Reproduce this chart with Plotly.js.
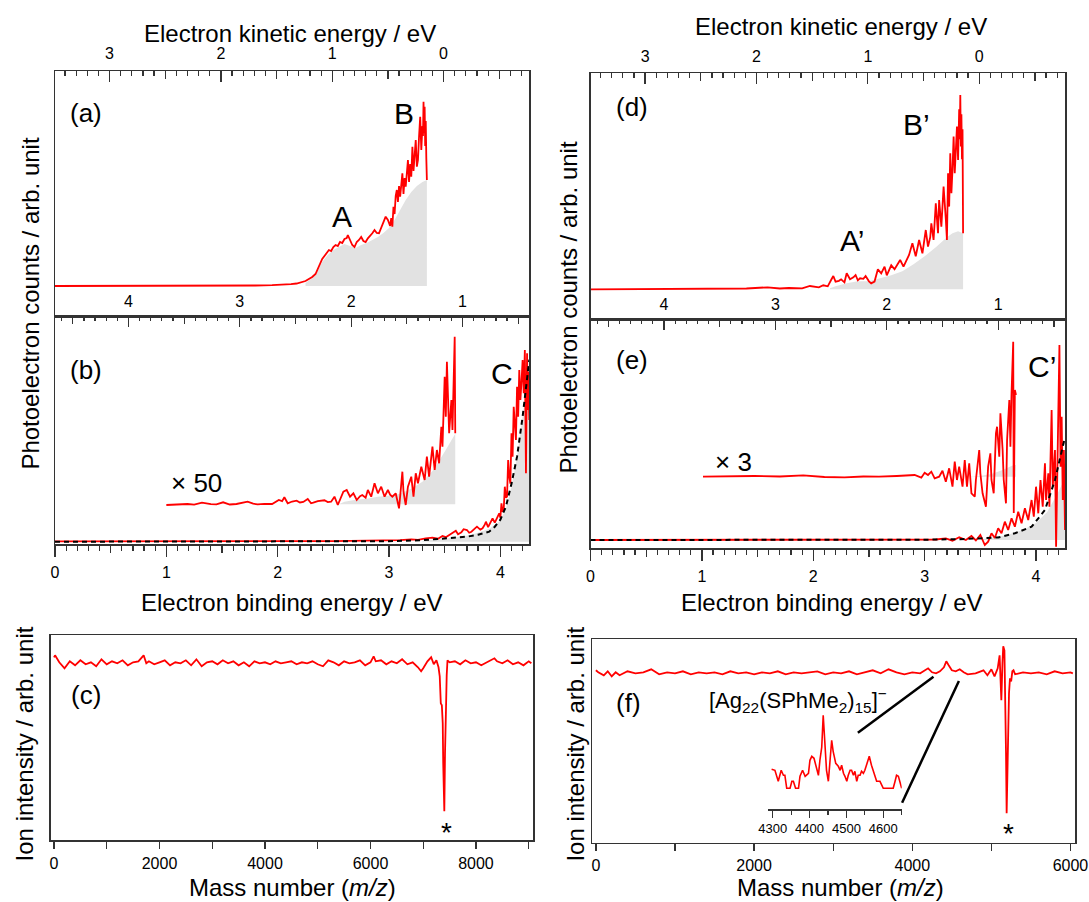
<!DOCTYPE html>
<html><head><meta charset="utf-8">
<script src="https://cdn.plot.ly/plotly-3.0.1.min.js"></script>
<style>html,body{margin:0;padding:0;background:#fff}#chart{width:1089px;height:902px}</style>
</head><body><div id="chart"></div>
<script>
// ---------------- DATA ----------------
// photon energies (eV) used for the kinetic-energy scales
const hv355 = 3.49;
const hv266 = 4.66;
// tick labels
const beTicks = [0, 1, 2, 3, 4];
const beHalf = [0.5, 1.5, 2.5, 3.5];
const ke355Ticks = [3, 2, 1, 0];
const ke355Half = [2.5, 1.5, 0.5, -0.5];
const ke266Ticks = [4, 3, 2, 1];
const ke266Half = [4.5, 3.5, 2.5, 1.5, 0.5];
const massTicksC = [0, 2000, 4000, 6000, 8000];
const massTicksF = [0, 2000, 4000, 6000];
const insetTicks = [4300, 4400, 4500, 4600];

// (a) 355 nm spectrum, binding energy (eV) vs counts (arb.)
const aBE = [0, 0.3, 0.6, 0.9, 1.2, 1.5, 1.8, 1.95, 2.05, 2.12,
  2.17, 2.21, 2.25, 2.28, 2.31, 2.34, 2.36, 2.38, 2.40, 2.42,
  2.44, 2.46, 2.48, 2.50, 2.52, 2.54, 2.56, 2.58, 2.60, 2.62,
  2.63, 2.65, 2.67, 2.69, 2.71, 2.73, 2.75, 2.77, 2.79, 2.81,
  2.83, 2.85, 2.87, 2.89, 2.91, 2.93, 2.95, 2.97, 2.99, 3.01,
  3.02, 3.03, 3.04, 3.05, 3.06, 3.07, 3.08, 3.09, 3.10, 3.11,
  3.12, 3.13, 3.14, 3.15, 3.16, 3.17, 3.18, 3.19, 3.20, 3.21,
  3.22, 3.23, 3.24, 3.25, 3.26, 3.27, 3.28, 3.29, 3.30, 3.305,
  3.31, 3.315, 3.32, 3.325, 3.33, 3.335, 3.34];
const aVal = [0, 0, 0.3, 0, 0.2, 0.4, 0.5, 0.8, 1.2, 1.8,
  2.5, 3.5, 5, 7, 9, 12, 17, 22, 27, 30,
  33, 36, 35, 39, 41, 40, 44, 43, 47, 48,
  51, 45, 41, 39, 44, 46, 49, 45, 44, 47.7,
  50, 52.7, 56, 53, 52.7, 58, 62.7, 69.3, 66, 60,
  68, 59.3, 79.3, 72, 90, 96, 84, 100, 89.3, 106,
  112.7, 92, 108, 99.3, 118, 126, 104, 122, 109.3, 139.3,
  115, 128, 146, 119.3, 126, 150, 169.3, 136, 160, 150,
  184.3, 152.7, 179.3, 140, 165, 128, 106];
const aFillBE = [2.25, 2.30, 2.35, 2.40, 2.45, 2.50, 2.55, 2.60, 2.65, 2.70, 2.75, 2.80,
  2.85, 2.90, 2.95, 3.00, 3.05, 3.10, 3.15, 3.20, 3.25, 3.30, 3.34];
const aFillVal = [3, 7, 13, 24, 31, 36, 39, 42, 40, 38, 41, 43,
  46, 49, 53, 58, 66, 76, 86, 94, 100, 104, 106];

// (b) 266 nm spectrum, x50 magnified trace (already offset)
const x50BE = [1.00, 1.10, 1.19, 1.25, 1.32, 1.40, 1.45, 1.51, 1.57, 1.63,
  1.68, 1.73, 1.78, 1.82, 1.88, 1.95, 2.01, 2.04, 2.06, 2.09,
  2.13, 2.17, 2.20, 2.23, 2.27, 2.30, 2.32, 2.36, 2.42, 2.45,
  2.48, 2.51, 2.54, 2.57, 2.59, 2.62, 2.65, 2.68, 2.71, 2.74,
  2.76, 2.79, 2.81, 2.84, 2.87, 2.90, 2.93, 2.96, 2.99, 3.01,
  3.03, 3.06, 3.08, 3.09, 3.10, 3.12, 3.13, 3.15, 3.17, 3.20,
  3.22, 3.24, 3.26, 3.29, 3.32, 3.34, 3.36, 3.39, 3.41, 3.43,
  3.45, 3.47, 3.48, 3.50, 3.51, 3.52, 3.54, 3.56, 3.57, 3.58,
  3.59, 3.595];
const x50Val = [36.7, 37.2, 37.7, 37.0, 39.0, 37.5, 37.4, 39.4, 37.2, 37.7,
  38.5, 40.0, 38.0, 37.4, 37.8, 37.7, 41.7, 40.5, 44.4, 38.4,
  40.2, 41.0, 39.2, 39.7, 42.7, 38.4, 39.0, 40.5, 41.4, 39.6,
  40.0, 45.0, 36.7, 46.0, 50.0, 51.7, 45.0, 48.4, 41.7, 45.5,
  46.7, 44.0, 51.7, 45.0, 58.4, 48.4, 55.0, 45.0, 51.7, 47.0,
  45.0, 48.4, 40.0, 33.4, 45.0, 70.0, 50.0, 36.7, 55.0, 65.0,
  45.0, 68.4, 58.4, 75.0, 61.7, 85.0, 65.0, 95.0, 71.7, 91.7,
  78.4, 115.0, 95.0, 165.0, 125.0, 180.0, 108.4, 141.7, 111.7, 150.0,
  205.0, 108.4];
const x50Base = 37.4;
const x50FillBE = [2.55, 2.60, 2.70, 2.80, 2.90, 3.00, 3.10, 3.20, 3.30, 3.40, 3.50, 3.55, 3.595];
const x50FillVal = [37.4, 40, 42, 43, 45, 46, 48, 53, 60, 72, 90, 100, 108];
// (b) main trace
const bBE = [0, 0.5, 1.0, 1.5, 2.0, 2.5, 2.8, 3.0, 3.1, 3.2,
  3.26, 3.33, 3.39, 3.44, 3.48, 3.51, 3.54, 3.57, 3.60, 3.62,
  3.65, 3.67, 3.70, 3.72, 3.74, 3.77, 3.79, 3.82, 3.84, 3.86,
  3.87, 3.89, 3.90, 3.92, 3.93, 3.95, 3.96, 3.98, 3.99, 4.00,
  4.01, 4.02, 4.03, 4.04, 4.05, 4.06, 4.07, 4.08, 4.09, 4.10,
  4.11, 4.12, 4.13, 4.14, 4.15, 4.16, 4.17, 4.18, 4.19, 4.20,
  4.21, 4.22, 4.23, 4.235, 4.24, 4.245, 4.25, 4.255, 4.26];
const bVal = [0.3, 0.2, 0.4, 0.3, 0.5, 0.6, 0.8, 1.0, 1.5, 2.4,
  1.8, 3.4, 4.0, 3.0, 5.7, 4.5, 6.7, 8.5, 11.0, 7.5,
  9.4, 12.5, 11.7, 9.0, 10.0, 13.0, 15.0, 12.0, 13.4, 17.0,
  20.0, 14.5, 16.7, 21.0, 23.4, 19.0, 21.7, 26.0, 28.4, 24.0,
  38.4, 30.0, 31.7, 55.0, 44.0, 45.0, 81.7, 65.0, 58.0, 108.4,
  85.0, 135.0, 115.0, 101.7, 155.0, 125.0, 171.7, 141.7, 160.0, 181.7,
  148.4, 191.7, 68.4, 160.0, 188.4, 131.7, 170.0, 150.0, 121.7];
const bFitBE = [0, 1, 2, 3, 3.3, 3.5, 3.7, 3.8, 3.9, 3.95, 4.0, 4.05, 4.1, 4.15, 4.2, 4.26];
const bFitVal = [0, 0, 0, 0.5, 1.5, 3, 5, 7, 10, 15, 22, 35, 58, 85, 125, 182];
const bFillBE = [3.3, 3.5, 3.7, 3.8, 3.9, 4.0, 4.05, 4.1, 4.15, 4.2, 4.26];
const bFillVal = [1, 3, 6, 9, 13, 21, 33, 55, 85, 125, 180];

// (c) mass spectrum (m/z vs signal, depletion)
const cMZ = [0, 20, 100, 200, 300, 400, 500, 600, 700, 800,
  900, 1000, 1100, 1200, 1300, 1400, 1500, 1600, 1700, 1750,
  1800, 1900, 2000, 2100, 2200, 2300, 2400, 2500, 2600, 2700,
  2800, 2900, 3000, 3100, 3200, 3300, 3400, 3500, 3600, 3700,
  3800, 3900, 4000, 4100, 4200, 4300, 4400, 4500, 4600, 4700,
  4800, 4900, 5000, 5100, 5200, 5300, 5400, 5500, 5600, 5700,
  5800, 5900, 6000, 6060, 6100, 6200, 6300, 6400, 6500, 6600,
  6700, 6800, 6900, 6960, 7000, 7080, 7150, 7200, 7250, 7290,
  7313, 7333, 7353, 7370, 7379, 7390, 7400, 7413, 7422, 7432,
  7445, 7460, 7500, 7600, 7700, 7800, 7900, 8000, 8100, 8200,
  8300, 8350, 8400, 8500, 8600, 8700, 8800, 8900, 9000, 9050];
const cVal = [6, 8, 1, -5, 2, -2, 3, -1, 1, -3,
  4, -1, 2, 0, 3, -2, 1, 2, 8, 0,
  2, -1, 1, 3, -2, 1, 0, 3, -2, 4,
  -3, 1, 2, -1, 3, 0, 2, -2, 1, -3,
  2, 0, 1, -1, 2, 0, 1, 2, -1, 1,
  0, 2, -1, -3, 3, 1, -2, 2, 0, 1,
  3, -2, 1, 7, 2, 3, -1, 2, 0, 4,
  -1, 1, -4, -8, -5, 2, 6, -1, 3, -4,
  -13, -40, -42, -60, -100, -148, -148, -90, -47, -45,
  -12, 3, 1, 2, -1, 3, 0, 1, -2, 1,
  4, 5, 2, 0, 3, -1, 1, -2, 2, 0];

// (d) 355 nm spectrum
const dBE = [0, 0.4, 0.8, 1.16, 1.4, 1.59, 1.7, 1.78, 1.9, 1.97,
  2.05, 2.09, 2.13, 2.16, 2.18, 2.20, 2.23, 2.25, 2.28, 2.30,
  2.33, 2.36, 2.38, 2.40, 2.42, 2.45, 2.47, 2.50, 2.52, 2.55,
  2.58, 2.61, 2.64, 2.66, 2.68, 2.70, 2.73, 2.75, 2.78, 2.81,
  2.83, 2.86, 2.89, 2.92, 2.95, 2.98, 3.01, 3.03, 3.05, 3.06,
  3.08, 3.10, 3.12, 3.13, 3.15, 3.17, 3.19, 3.20, 3.21, 3.22,
  3.23, 3.24, 3.25, 3.26, 3.27, 3.28, 3.29, 3.30, 3.31, 3.315,
  3.32, 3.325, 3.33, 3.335, 3.34, 3.345];
const dVal = [0, 0.2, 0.3, 0.3, 0.8, 2.0, 0.8, 1.3, 1.0, 3.3,
  2.0, 4.0, 3.0, 9.3, 13.3, 7.7, 8.5, 10.0, 7.0, 16.0,
  10.0, 12.0, 14.3, 9.0, 11.0, 10.5, 13.3, 8.0, 6.0, 7.7,
  20.0, 16.0, 22.7, 14.0, 18.7, 24.0, 20.0, 24.3, 29.3, 22.7,
  27.0, 34.3, 46.0, 33.0, 49.3, 36.0, 59.3, 42.7, 52.0, 66.0,
  49.3, 86.0, 56.0, 89.3, 62.7, 102.7, 70.0, 49.3, 116.0, 82.7,
  136.0, 96.0, 120.0, 152.7, 116.0, 140.0, 162.7, 129.3, 180.0, 150.0,
  194.3, 142.7, 175.0, 130.0, 160.0, 56.0];
const dFillBE = [2.15, 2.2, 2.3, 2.4, 2.5, 2.6, 2.7, 2.8, 2.9, 3.0, 3.1, 3.2, 3.25, 3.3, 3.345];
const dFillVal = [1, 3, 6, 8, 8, 11, 14, 18, 25, 33, 42, 52, 56, 58, 56];

// (e) 266 nm spectrum, x3 magnified trace (already offset)
const x3BE = [1.01, 1.2, 1.47, 1.7, 1.91, 2.1, 2.28, 2.45, 2.59, 2.75,
  2.91, 2.97, 3.00, 3.03, 3.06, 3.09, 3.13, 3.16, 3.19, 3.22,
  3.25, 3.27, 3.29, 3.31, 3.34, 3.36, 3.38, 3.40, 3.42, 3.45,
  3.46, 3.49, 3.50, 3.52, 3.55, 3.57, 3.59, 3.60, 3.62, 3.64,
  3.65, 3.67, 3.68, 3.70, 3.71, 3.73, 3.74, 3.76, 3.77, 3.78,
  3.795, 3.80, 3.805, 3.81, 3.82];
const x3Val = [63.3, 63.6, 64.0, 63.5, 64.7, 63.0, 62.7, 63.5, 63.3, 64.0,
  65.0, 62.3, 67.3, 65.0, 68.3, 61.7, 63.3, 69.3, 58.3, 71.7,
  53.3, 78.3, 60.0, 73.3, 53.3, 80.0, 53.3, 76.7, 46.7, 43.3,
  60.0, 90.0, 66.7, 46.7, 33.3, 73.3, 86.7, 60.0, 46.7, 106.7,
  113.3, 83.3, 126.7, 90.0, 60.0, 36.7, 100.0, 140.0, 93.3, 146.7,
  198.3, 27.0, 146.7, 150.0, 145.0];
const x3Base = 63.3;
const x3FillBE = [3.4, 3.5, 3.6, 3.7, 3.8, 3.82];
const x3FillVal = [63.3, 64, 66, 70, 75, 75];
// (e) main trace
const eBE = [0, 0.5, 1, 1.5, 2, 2.5, 3.0, 3.10, 3.19, 3.25,
  3.31, 3.37, 3.42, 3.46, 3.50, 3.54, 3.57, 3.60, 3.63, 3.66,
  3.69, 3.72, 3.75, 3.78, 3.81, 3.84, 3.87, 3.90, 3.93, 3.96,
  3.98, 4.00, 4.02, 4.04, 4.06, 4.08, 4.09, 4.11, 4.12, 4.14,
  4.15, 4.17, 4.18, 4.20, 4.21, 4.22, 4.23, 4.24, 4.25, 4.26];
const eVal = [0, 0, 0, 0, 0, 0.2, 0.3, 0.5, 1.7, -0.7,
  2.7, 0, 4.0, -0.5, 5.0, -5.0, -1.7, 6.7, 2.0, 11.7,
  6.7, 18.3, 10.0, 21.7, 13.3, 28.3, 16.7, 31.7, 20.0, 40.0,
  23.3, 53.3, 26.7, 60.0, 33.3, 76.7, 40.0, 66.7, 33.3, 130.0,
  53.3, 90.0, -6.7, 106.7, 195.0, 73.3, 123.3, 40.0, 90.0, 10.0];
const eFitBE = [0, 1, 2, 3, 3.3, 3.5, 3.66, 3.81, 3.96, 4.08, 4.17, 4.26];
const eFitVal = [0, 0, 0, 0.3, 0.8, 1.5, 2.5, 6.7, 13.3, 30, 60, 103];
const eFillBE = [3.5, 3.6, 3.7, 3.8, 3.9, 4.0, 4.1, 4.2, 4.26];
const eFillVal = [0.5, 2, 4, 7, 11, 17, 28, 48, 62];

// (f) mass spectrum
const fMZ = [0, 30, 100, 150, 200, 250, 300, 400, 500, 600,
  700, 800, 900, 1000, 1100, 1200, 1300, 1400, 1500, 1600,
  1700, 1800, 1900, 2000, 2100, 2200, 2300, 2400, 2500, 2600,
  2700, 2800, 2900, 3000, 3100, 3200, 3300, 3400, 3500, 3600,
  3700, 3800, 3900, 4000, 4100, 4200, 4250, 4300, 4350, 4400,
  4430, 4460, 4500, 4550, 4600, 4650, 4700, 4800, 4900, 4950,
  5000, 5040, 5080, 5104, 5115, 5126, 5140, 5150, 5165, 5175,
  5185, 5193, 5205, 5215, 5223, 5235, 5250, 5265, 5280, 5300,
  5400, 5500, 5600, 5700, 5800, 5900, 6000, 6030];
const fVal = [3, 1, -2, 2, -3, 1, -2, 2, 0, 1,
  4, -1, 1, 0, 2, -1, 1, 0, 1, -1,
  2, 0, 1, -1, 1, 0, 2, -1, 1, 0,
  1, 2, -1, 1, 0, 2, -1, 1, 3, 0,
  4, 1, -1, 1, 0, 5, 1, 0, 2, 6,
  12, 8, 3, 2, 4, 1, -1, 0, 3, -2,
  4, -3, 5, 18, -5, -27, 10, 27, 23, -20,
  -80, -140, -80, -45, -20, -5, -8, 2, 3, -1,
  1, 0, 1, -1, 2, 0, 1, 0];

// (f) inset: [Ag22(SPhMe2)15]- region
const insMZ = [4297, 4306, 4315, 4323, 4329, 4333, 4338, 4347, 4352, 4356,
  4362, 4370, 4374, 4381, 4388, 4397, 4401, 4406, 4412, 4419,
  4424, 4428, 4433, 4437, 4442, 4446, 4451, 4455, 4460, 4464,
  4471, 4478, 4483, 4487, 4492, 4496, 4501, 4505, 4510, 4514,
  4519, 4523, 4528, 4532, 4537, 4541, 4546, 4550, 4555, 4562,
  4568, 4575, 4582, 4591, 4600, 4618, 4627, 4632, 4636, 4641,
  4650];
const insVal = [40, 39, 28, 39, 34, 34, 21, 21, 28, 28,
  21, 21, 33, 39, 33, 36, 49, 53, 51, 41,
  34, 49, 62, 94, 62, 39, 28, 49, 69, 58,
  46, 43, 39, 44, 36, 33, 28, 34, 39, 39,
  34, 38, 28, 34, 34, 38, 36, 39, 46, 53,
  44, 36, 28, 28, 21, 21, 21, 28, 34, 33,
  21];

// ---------------- LAYOUT HELPERS ----------------
const W = 1089, H = 902;
const px = v => v / W, py = v => 1 - v / H;
const FONT = 'Liberation Sans, Arial, Helvetica, sans-serif';
const RED = '#ff0000', GRAY = '#e2e2e2', AX = '#333333';
const TICKFONT = {family: FONT, size: 16, color: '#000'};
const BE_RANGE = [0, 4.26];

function ax(extra) {
  return Object.assign({
    showgrid: false, zeroline: false, showline: true, linecolor: AX, linewidth: 1.5,
    tickcolor: AX, tickwidth: 1.3, tickfont: TICKFONT, fixedrange: true
  }, extra);
}
function yax(domain, range, anchor) {
  return ax({domain: domain, range: range, anchor: anchor, showticklabels: false, ticks: '', mirror: true});
}
function beAxis(domain, anchor) {
  return ax({domain: domain, range: BE_RANGE, anchor: anchor, side: 'bottom',
    tickmode: 'array', tickvals: beTicks, ticktext: beTicks.map(String),
    ticks: 'outside', ticklen: 11, ticklabelstandoff: 2,
    minor: {ticks: 'outside', ticklen: 5, tick0: 0, dtick: 0.1, tickcolor: AX, tickwidth: 1.2}});
}
function keAxis(hv, kt, extra) {
  return ax(Object.assign({range: BE_RANGE, side: 'top', tickmode: 'array',
    tickvals: kt.map(k => hv - k), ticktext: kt.map(String), ticks: 'inside', ticklen: 11,
    minor: {ticks: 'inside', ticklen: 5, tick0: hv, dtick: 0.1, tickcolor: AX, tickwidth: 1.2}}, extra));
}
// medium (half-unit) ticks, drawn on an overlaid axis without labels
function midAxis(vals, over, anchor, side, dir) {
  return {overlaying: over, anchor: anchor, side: side, range: BE_RANGE, showline: false, showgrid: false,
    zeroline: false, showticklabels: false, tickmode: 'array', tickvals: vals, ticks: dir, ticklen: 8,
    tickcolor: AX, tickwidth: 1.3, fixedrange: true};
}
function massAxis(domain, range, anchor, ticks) {
  return ax({domain: domain, range: range, anchor: anchor, mirror: true, tickmode: 'array',
    tickvals: ticks, ticktext: ticks.map(String), ticks: 'outside', ticklen: 7, ticklabelstandoff: 1,
    minor: {ticks: 'outside', ticklen: 7, tick0: 0, dtick: 1000, tickcolor: AX, tickwidth: 1.3}});
}
function line(x, y, xa, ya, color, width, dash) {
  return {type: 'scatter', mode: 'lines', x: x, y: y, xaxis: xa, yaxis: ya,
    line: {color: color, width: width, dash: dash || 'solid'}, hoverinfo: 'skip'};
}
function fillTo0(x, y, xa, ya) {
  return {type: 'scatter', mode: 'lines', x: x, y: y, xaxis: xa, yaxis: ya, fill: 'tozeroy',
    fillcolor: GRAY, line: {width: 0, color: GRAY}, hoverinfo: 'skip'};
}
function fillAbove(x, y, base, xa, ya) {
  return [
    {type: 'scatter', mode: 'lines', x: x, y: x.map(() => base), xaxis: xa, yaxis: ya,
      line: {width: 0, color: GRAY}, hoverinfo: 'skip'},
    {type: 'scatter', mode: 'lines', x: x, y: y, xaxis: xa, yaxis: ya, fill: 'tonexty',
      fillcolor: GRAY, line: {width: 0, color: GRAY}, hoverinfo: 'skip'}
  ];
}
const empty = (xa, ya) => ({type: 'scatter', mode: 'lines', x: [], y: [], xaxis: xa, yaxis: ya, hoverinfo: 'skip'});

const LX = [px(55), px(529.3)], RX = [px(590.5), px(1065)];
const LW = 1.8;

const traces = [].concat(
  // (a)
  [fillTo0(aFillBE, aFillVal, 'x3', 'y3'), line(aBE, aVal, 'x3', 'y3', RED, LW)],
  // (b)
  fillAbove(x50FillBE, x50FillVal, x50Base, 'x', 'y'),
  [fillTo0(bFillBE, bFillVal, 'x', 'y'),
   line(x50BE, x50Val, 'x', 'y', RED, LW),
   line(bBE, bVal, 'x', 'y', RED, LW),
   line(bFitBE, bFitVal, 'x', 'y', '#000', 2, '5px,4px')],
  // (c)
  [line(cMZ, cVal, 'x4', 'y4', RED, LW)],
  // (d)
  [fillTo0(dFillBE, dFillVal, 'x7', 'y7'), line(dBE, dVal, 'x7', 'y7', RED, LW)],
  // (e)
  fillAbove(x3FillBE, x3FillVal, x3Base, 'x5', 'y5'),
  [fillTo0(eFillBE, eFillVal, 'x5', 'y5'),
   line(x3BE, x3Val, 'x5', 'y5', RED, LW),
   line(eBE, eVal, 'x5', 'y5', RED, LW),
   line(eFitBE, eFitVal, 'x5', 'y5', '#000', 2, '5px,4px')],
  // (f)
  [line(fMZ, fVal, 'x8', 'y8', RED, LW),
   line(insMZ, insVal, 'x9', 'y9', RED, 1.6)],
  // overlaid tick-only axes
  [empty('x2', 'y'), empty('x6', 'y5'), empty('x10', 'y'), empty('x11', 'y'), empty('x12', 'y3'),
   empty('x13', 'y5'), empty('x14', 'y5'), empty('x15', 'y7')]
);

function note(x, y, text, size, extra) {
  return Object.assign({xref: 'paper', yref: 'paper', x: px(x), y: py(y), text: text, showarrow: false,
    xanchor: 'center', yanchor: 'middle', font: {family: FONT, size: size, color: '#000'}}, extra || {});
}

const annotations = [
  note(290, 33, 'Electron kinetic energy / eV', 24),
  note(841, 27, 'Electron kinetic energy / eV', 24),
  note(292, 602, 'Electron binding energy / eV', 24),
  note(832, 602, 'Electron binding energy / eV', 24),
  note(292, 887, 'Mass number (<i>m/z</i>)', 24),
  note(840, 887, 'Mass number (<i>m/z</i>)', 24),
  note(29.6, 303, 'Photoelectron counts / arb. unit', 24, {textangle: -90}),
  note(567.6, 307, 'Photoelectron counts / arb. unit', 24, {textangle: -90}),
  note(24.4, 744, 'Ion intensity / arb. unit', 24, {textangle: -90}),
  note(574.6, 744, 'Ion intensity / arb. unit', 24, {textangle: -90}),
  note(85.5, 113, '(a)', 26), note(85.5, 370, '(b)', 26), note(85.5, 695, '(c)', 26),
  note(632, 107, '(d)', 26), note(632, 360, '(e)', 26), note(628.6, 703, '(f)', 26),
  note(341.5, 216.7, 'A', 30), note(404.2, 113.3, 'B', 30), note(501.7, 373.3, 'C', 30),
  note(851.6, 240, 'A’', 30), note(916, 125, 'B’', 30), note(1041.5, 366.7, 'C’', 30),
  note(197, 482.7, '× 50', 26), note(733, 461.7, '× 3', 26),
  note(446, 832, '*', 28), note(1008.4, 833, '*', 28),
  note(798, 700, '[Ag<sub>22</sub>(SPhMe<sub>2</sub>)<sub>15</sub>]<sup>−</sup>', 22)
];

const shapes = [
  {type: 'line', xref: 'paper', yref: 'paper', x0: px(933.5), y0: py(676.7), x1: px(857.9), y1: py(732.7),
    line: {color: '#000', width: 2.5}},
  {type: 'line', xref: 'paper', yref: 'paper', x0: px(958.9), y0: py(681), x1: px(902.1), y1: py(802.7),
    line: {color: '#000', width: 2.5}}
];

const layout = {
  width: W, height: H, margin: {l: 0, r: 0, t: 0, b: 0},
  paper_bgcolor: '#fff', plot_bgcolor: 'rgba(0,0,0,0)', showlegend: false,
  font: {family: FONT, color: '#000'},
  // left column
  xaxis: beAxis(LX, 'y'),
  yaxis: yax([py(544.3), py(316)], [-2.6, 225.7], 'x'),
  xaxis2: keAxis(hv266, ke266Ticks, {overlaying: 'x', anchor: 'y', ticklabelstandoff: 1}),
  xaxis3: keAxis(hv355, ke355Ticks, {domain: LX, anchor: 'y3', mirror: true, ticklabelstandoff: 4}),
  yaxis3: yax([py(316), py(71)], [-30, 215], 'x3'),
  xaxis4: massAxis([px(50.5), px(533.1)], [-66, 9083], 'y4', massTicksC),
  yaxis4: yax([py(840), py(635)], [-176.7, 28.3], 'x4'),
  // right column
  xaxis5: beAxis(RX, 'y5'),
  yaxis5: yax([py(548), py(319.3)], [-8, 220.7], 'x5'),
  xaxis6: keAxis(hv266, ke266Ticks, {overlaying: 'x5', anchor: 'y5', ticklabelstandoff: 1}),
  xaxis7: keAxis(hv355, ke355Ticks, {domain: RX, anchor: 'y7', mirror: true, ticklabelstandoff: 3}),
  yaxis7: yax([py(319.3), py(73.3)], [-30, 216], 'x7'),
  xaxis8: massAxis([px(592), px(1075.3)], [-49, 6061], 'y8', massTicksF),
  yaxis8: yax([py(842.7), py(639)], [-169.4, 34.3], 'x8'),
  // half-unit ticks
  xaxis10: midAxis(beHalf, 'x', 'y', 'bottom', 'outside'),
  xaxis11: midAxis(ke266Half.map(k => hv266 - k), 'x', 'y', 'top', 'inside'),
  xaxis12: midAxis(ke355Half.map(k => hv355 - k), 'x3', 'y3', 'top', 'inside'),
  xaxis13: midAxis(beHalf, 'x5', 'y5', 'bottom', 'outside'),
  xaxis14: midAxis(ke266Half.map(k => hv266 - k), 'x5', 'y5', 'top', 'inside'),
  xaxis15: midAxis(ke355Half.map(k => hv355 - k), 'x7', 'y7', 'top', 'inside'),
  // inset
  xaxis9: ax({domain: [px(768.3), px(901.7)], range: [4288, 4650], anchor: 'y9', linewidth: 1.3,
    tickmode: 'array', tickvals: insetTicks, ticktext: insetTicks.map(String), ticks: 'outside', ticklen: 7,
    tickfont: {family: FONT, size: 13, color: '#000'},
    minor: {ticks: 'outside', ticklen: 4, tick0: 4300, dtick: 50, tickcolor: AX}}),
  yaxis9: {domain: [py(809.3), py(700)], range: [0, 109.3], anchor: 'x9', visible: false, fixedrange: true},
  annotations: annotations,
  shapes: shapes
};

Plotly.newPlot('chart', traces, layout, {displayModeBar: false, staticPlot: true});
</script></body></html>
